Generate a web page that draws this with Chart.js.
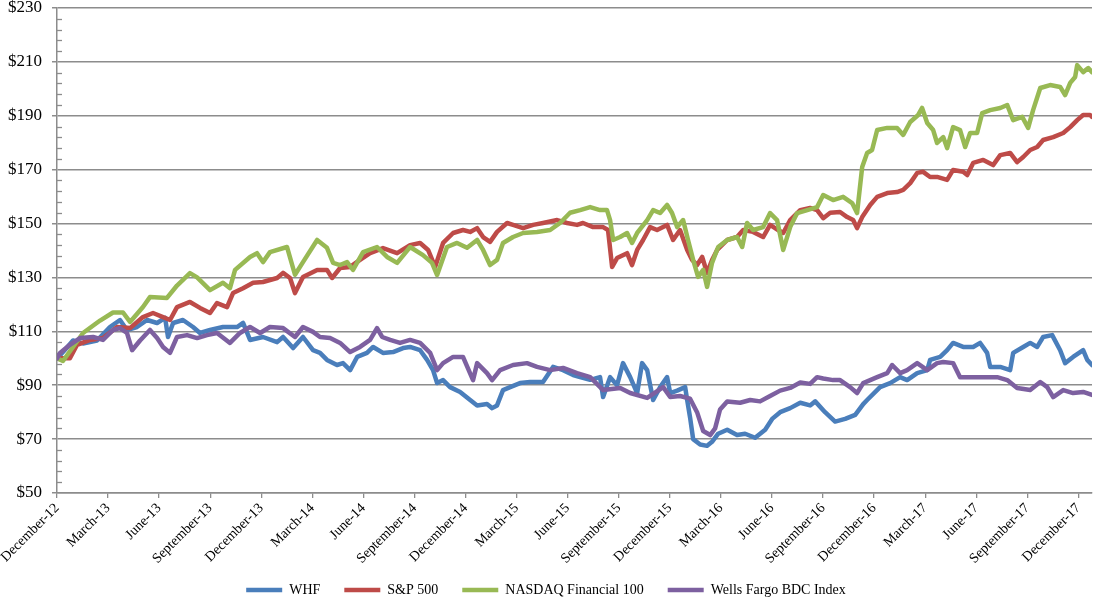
<!DOCTYPE html>
<html lang="en">
<head>
<meta charset="UTF-8">
<title>Total return comparison</title>
<style>
  body { margin: 0; background: #fff; }
  #wrap { position: relative; width: 1094px; height: 598px; }
</style>
</head>
<body>
<div id="wrap"><canvas id="myChart"></canvas></div>
<script src="https://cdn.jsdelivr.net/npm/chart.js"></script>
<script>
// x values are months after December 2012
const quarterLabels = ['December-12','March-13','June-13','September-13','December-13','March-14','June-14','September-14',
  'December-14','March-15','June-15','September-15','December-15','March-16','June-16','September-16',
  'December-16','March-17','June-17','September-17','December-17'];
const seriesNames = ['WHF', 'S&P 500', 'NASDAQ Financial 100', 'Wells Fargo BDC Index'];
const seriesColors = ['#4a7ebb', '#be4b48', '#98b954', '#7d60a0'];

const whfMonths = [0,0.18,0.59,0.94,1.53,2.35,3.11,3.70,4.11,4.70,
  5.29,5.88,6.35,6.52,6.82,7.40,7.99,8.40,8.99,9.75,
  10.58,10.93,11.34,12.10,12.93,13.28,13.87,14.45,15.04,15.45,
  15.86,16.45,16.80,17.22,17.63,18.21,18.57,19.15,19.74,20.33,
  20.74,21.33,21.74,22.09,22.33,22.68,23.09,23.68,24.27,24.68,
  25.26,25.56,25.85,26.20,26.62,27.20,27.79,28.55,29.14,29.73,
  30.32,30.73,31.32,31.90,32.08,32.49,32.90,33.25,33.67,34.08,
  34.37,34.67,35.02,35.43,35.84,36.02,36.43,36.90,37.02,37.19,
  37.37,37.78,38.19,38.48,38.84,39.37,39.95,40.42,41.01,41.60,
  42.01,42.48,43.07,43.66,44.24,44.54,45.12,45.71,46.30,46.89,
  47.36,47.59,48.35,48.94,49.53,49.94,50.53,51.12,51.29,51.88,
  52.29,52.64,53.23,53.82,54.23,54.64,54.82,55.41,55.99,56.17,
  56.76,57.17,57.58,57.93,58.46,58.93,59.22,59.69,60.28,60.52,60.8];
const whfValues = [100,101.1,104,106.6,105.5,106.6,111.6,114.2,110.5,111.6,
  114.2,113.1,115,107.9,113.1,114.2,111.6,109.4,110.5,111.6,
  111.6,113.1,106.8,107.9,106,107.9,103.8,107.9,103,102,
  99.4,97.5,98.2,95.6,100.5,102,104.2,102,102.3,103.8,
  104.2,103,99.4,95.6,90.8,91.9,89.3,87.5,84.5,82.5,
  83,81.5,82.5,88.2,89.3,90.8,91.2,91.2,96.8,95.6,
  93.8,93,92,93,85.6,93,90,98.2,93,87.1,
  98.2,95.6,84.5,89.3,93,87.1,88,89.3,84.5,78,
  70,68,67.5,69,72,73.5,71.5,72,70.5,73.5,
  77.5,80,81.5,83.5,82.5,84,80,76.5,77.5,79,
  83,84.5,89.3,90.8,93,91.9,94.5,95.6,99.4,100.5,
  103,105.7,104.2,104.2,105.7,102,96.8,96.8,95.6,102,
  104.2,105.7,104.2,107.9,108.6,103,98.2,100.5,103,99.4,97.5];

const spxMonths = [0,0.76,1.18,1.94,2.70,3.53,4.29,5.05,5.64,6.23,
  6.64,7.05,7.81,8.40,8.99,9.40,9.99,10.34,10.93,11.52,
  12.10,12.93,13.28,13.69,13.98,14.45,15.28,15.86,16.16,16.63,
  17.22,17.80,18.39,19.15,19.98,20.74,21.33,21.80,22.21,22.68,
  23.27,23.85,24.27,24.68,25.03,25.44,25.85,26.44,26.79,27.38,
  27.97,28.55,29.38,29.96,30.55,30.90,31.49,32.08,32.37,32.61,
  32.90,33.49,33.78,34.08,34.43,34.84,35.25,35.84,36.19,36.60,
  37.02,37.31,37.60,37.90,38.19,38.48,38.78,39.37,39.95,40.31,
  40.89,41.48,41.89,42.36,42.66,43.07,43.66,44.24,44.65,45.01,
  45.42,46.00,46.42,46.77,47.00,47.30,47.77,48.18,48.77,49.35,
  49.71,50.12,50.53,50.88,51.29,51.70,52.29,52.64,53.23,53.47,
  53.82,54.41,54.99,55.41,55.99,56.40,56.76,57.17,57.58,57.93,
  58.52,59.11,59.52,59.93,60.28,60.69,60.8];
const spxValues = [100,100,105,106.8,107.5,111.6,111.2,115.3,116.8,115.3,
  114.2,119,120.9,118.7,116.8,120.5,119,124.2,126,128,
  128.3,129.8,131.7,129.8,124.2,130.2,132.8,132.8,129.8,133.5,
  133.9,136.5,139,140.9,139,142,142.8,140.2,133.9,142.8,
  146.5,147.6,146.9,148.3,145,143.2,146.9,150.2,149.5,148.3,
  149.5,150.2,151.3,150.2,149.5,150.2,148.7,148.7,147.6,133.9,
  137.2,139,134.6,140.2,143.9,148.7,147.6,149.5,143.9,147.6,
  140.2,136.5,134.6,137.6,131.7,136.5,140.2,143.9,145,147.6,
  146.9,145,149.5,147.6,146.5,151.3,155,155.8,155,152,
  154,154.3,152.4,151.3,148.3,152.4,156.9,159.9,161.3,161.7,
  162.5,165,168.8,169.2,167.3,167.3,166.2,169.9,169.2,168,
  172.5,173.6,171.7,175.4,176.2,172.8,174.7,177.3,178.4,181,
  182.1,183.6,185.8,188.4,190.3,190.3,189.6];

const nasdaqMonths = [0,0.35,1.53,2.53,3.29,3.88,4.29,5.05,5.46,6.46,
  7.05,7.81,8.23,8.99,9.75,10.16,10.46,11.34,11.75,12.10,
  12.51,13.51,13.98,14.45,15.28,15.86,16.22,16.63,17.04,17.39,
  17.98,18.80,19.39,19.98,20.74,21.50,22.03,22.33,22.91,23.50,
  24.09,24.68,25.03,25.44,25.85,26.20,26.79,27.38,28.20,28.97,
  29.55,30.14,30.73,31.32,31.90,32.31,32.49,32.67,33.08,33.49,
  33.78,34.08,34.67,35.02,35.43,35.84,36.13,36.43,36.78,37.07,
  37.37,37.66,37.96,38.19,38.48,38.84,39.37,39.95,40.25,40.54,
  40.89,41.48,41.89,42.30,42.66,43.07,43.48,44.07,44.65,45.01,
  45.59,46.18,46.71,47.00,47.30,47.59,47.88,48.18,48.77,49.35,
  49.71,50.12,50.59,50.82,51.12,51.47,51.70,52.06,52.29,52.64,
  53.05,53.35,53.64,54.05,54.35,54.82,55.41,55.82,56.17,56.70,
  57.05,57.34,57.76,58.34,58.93,59.22,59.52,59.81,59.93,60.28,60.58,60.8];
const nasdaqValues = [100,99,109.4,114,117,117,113.5,119,122.7,122.4,
  127,131.6,130,125.3,128,126,132.8,137.6,139,135.7,
  139.4,141.3,131,135.7,143.9,141,135.4,134.6,135.7,132.8,
  139.4,141.3,137.6,135.4,141.3,138.3,135.4,130.9,141.3,142.8,
  141,143.9,140.2,134.6,136.5,142.8,145,146.5,146.9,147.6,
  150.2,154,155,156.1,155,155,151.3,143.9,145,146.5,
  142.8,146.5,151.3,155,153.9,156.9,153.9,148.7,151.3,143.9,
  136.5,130.2,132.8,126.5,135.4,141.3,143.9,145,141.3,150.2,
  147.6,148.7,153.9,151.3,140.2,148.7,153.9,155,156.1,160.6,
  158.7,159.9,157.6,153.9,171,176.2,177.3,184.7,185.5,185.5,
  182.9,187.7,190.3,192.9,187.3,184.7,179.9,182.1,178,185.8,
  184.7,178.4,183.6,183.6,191,192.1,192.9,194,188.4,189.6,
  185.5,192.1,200.3,201.4,200.7,197.7,202.2,204.4,208.8,206.2,207.7,206.2];

const bdcMonths = [0,0.18,0.76,1.35,2.12,2.70,3.29,3.70,4.11,4.41,
  4.88,5.46,5.88,6.23,6.64,7.05,7.64,8.23,8.81,9.40,
  10.16,10.75,11.34,11.93,12.51,13.28,13.98,14.45,15.04,15.45,
  16.04,16.63,17.22,17.80,18.39,18.80,19.10,19.57,20.15,20.74,
  21.33,21.92,22.33,22.68,23.27,23.85,24.44,24.68,25.26,25.56,
  26.03,26.79,27.61,28.20,28.97,29.73,30.55,31.32,32.08,33.08,
  33.67,34.67,35.61,36.02,36.60,37.19,37.60,37.96,38.37,38.66,
  38.95,39.37,40.13,40.72,41.30,41.89,42.48,43.07,43.66,44.24,
  44.65,45.01,45.59,46.00,46.59,47.00,47.36,48.18,48.77,49.06,
  49.53,49.94,50.53,51.12,51.70,52.06,52.64,53.05,53.64,54.41,
  55.23,55.82,56.40,57.17,57.76,58.17,58.52,59.11,59.69,60.28,60.8];
const bdcValues = [100,102,105,107.5,107.9,106.8,110.5,111.2,109.4,103,
  106.6,110.5,107.5,104.2,102,107.9,108.6,107.5,108.6,109.4,
  105.7,109.4,111.6,109.4,111.6,111.2,107.9,111.6,109.8,107.9,
  107.5,105.7,102.3,104.2,106.8,111.2,107.9,106.8,105.7,106.8,
  105.7,102,95.6,98.2,100.5,100.5,91.9,98.2,94.5,91.9,
  95.6,97.5,98.2,96.8,95.6,96.4,94.5,93,88.2,89,
  87.1,85.3,89.3,85.6,86,85,80,73,71.5,74,
  81,84,83.5,84.5,84,86,88,89,91,90.5,
  93,92.5,91.9,91.9,89.3,87.1,90.8,93,94.5,97.5,
  94.5,95.6,98.2,95.6,98.2,98.6,98.2,93,93,93,
  93,91.9,89,88.2,91.2,89.3,85.6,88.2,87.1,87.5,86.4];

const FONT = "'Liberation Serif', 'Times New Roman', serif";
const GRID = '#8c8c8c';

function toPoints(months, values) {
  return months.map((m, i) => ({ x: m, y: values[i] }));
}

const allMonths = [whfMonths, spxMonths, nasdaqMonths, bdcMonths];
const allValues = [whfValues, spxValues, nasdaqValues, bdcValues];

const datasets = seriesNames.map((name, i) => ({
  label: name,
  data: toPoints(allMonths[i], allValues[i]),
  borderColor: seriesColors[i],
  backgroundColor: seriesColors[i],
  borderWidth: 4.5,
  borderCapStyle: 'round',
  borderJoinStyle: 'round',
  pointRadius: 0,
  pointStyle: 'line',
  tension: 0,
  order: 4 - i
}));

// small inner ticks on the value axis, every $4
const minorTicks = {
  id: 'minorTicks',
  beforeDatasetsDraw(chart) {
    const y = chart.scales.y;
    const ctx = chart.ctx;
    ctx.save();
    ctx.strokeStyle = GRID;
    ctx.lineWidth = 1.3;
    for (let v = 50; v <= 230; v += 4) {
      if ((v - 50) % 20 === 0) continue;
      const py = Math.round(y.getPixelForValue(v)) + 0.5;
      ctx.beginPath();
      ctx.moveTo(y.right, py);
      ctx.lineTo(y.right + 5, py);
      ctx.stroke();
    }
    ctx.restore();
  }
};

new Chart(document.getElementById('myChart'), {
  type: 'line',
  data: { datasets: datasets },
  plugins: [minorTicks],
  options: {
    responsive: true,
    maintainAspectRatio: false,
    animation: false,
    layout: { padding: { top: 8, right: 2, left: 0, bottom: -9 } },
    plugins: {
      tooltip: { enabled: false },
      legend: {
        position: 'bottom',
        labels: {
          font: { family: FONT, size: 14 },
          color: '#000',
          usePointStyle: true,
          pointStyleWidth: 36,
          padding: 24,
          sort: (a, b) => a.datasetIndex - b.datasetIndex
        }
      }
    },
    scales: {
      x: {
        type: 'linear',
        min: 0,
        max: 60.8,
        afterBuildTicks(scale) {
          scale.ticks = quarterLabels.map((_, i) => ({ value: i * 3 }));
        },
        afterFit(scale) {
          scale.height = 66;
          // rotated labels run a little past the axis box; do not clip them
          scale._computeLabelArea = () => undefined;
        },
        ticks: {
          autoSkip: false,
          minRotation: 45,
          maxRotation: 45,
          color: '#000',
          font: { family: FONT, size: 14 },
          padding: 2,
          callback: (v) => quarterLabels[Math.round(v / 3)]
        },
        grid: { drawOnChartArea: false, drawTicks: true, tickLength: 5, color: GRID, lineWidth: 1.3 },
        border: { color: GRID, width: 1.5 }
      },
      y: {
        min: 50,
        max: 230,
        afterFit(scale) {
          scale.width = 57;
          scale.paddingTop = 0;
          scale.paddingBottom = 0;
        },
        ticks: {
          stepSize: 20,
          color: '#000',
          font: { family: FONT, size: 17 },
          padding: 10,
          callback: (v) => '$' + v
        },
        grid: { color: GRID, lineWidth: 1.5, tickLength: 5 },
        border: { color: GRID, width: 1.5 }
      }
    }
  }
});
</script>
</body>
</html>
